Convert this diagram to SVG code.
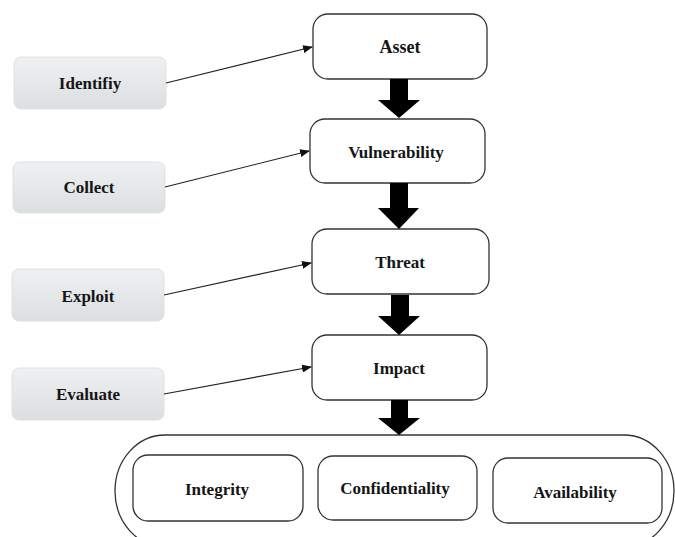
<svg xmlns="http://www.w3.org/2000/svg" width="675" height="537" viewBox="0 0 675 537">
<defs>
<linearGradient id="g" x1="0" y1="0" x2="0" y2="1">
<stop offset="0" stop-color="#eef0f1"/>
<stop offset="1" stop-color="#dcdfe1"/>
</linearGradient>
<marker id="ah" markerWidth="10" markerHeight="8" refX="9" refY="4" orient="auto" markerUnits="userSpaceOnUse">
<path d="M0,0 L10,4 L0,8 Z" fill="#111"/>
</marker>
<style>
.t{font-family:"Liberation Serif","Times New Roman",serif;font-weight:bold;font-size:17px;fill:#151515;text-anchor:middle}
.src{fill:url(#g);stroke:#dfe1e2;stroke-width:1}
.box{fill:#fff;stroke:#333;stroke-width:1.3}
.ln{stroke:#222;stroke-width:1.2;fill:none;marker-end:url(#ah)}
.big{fill:#000}
</style>
</defs>
<rect width="675" height="537" fill="#fff"/>

<g id="container">
<rect x="115" y="435" width="559" height="112" rx="50" ry="56" fill="#fff" stroke="#333" stroke-width="1.3"/>
</g>

<g id="identify"><rect class="src" x="14" y="57" width="152" height="52" rx="7"/><text class="t" x="90" y="89">Identifiy</text></g>
<g id="collect"><rect class="src" x="13" y="162" width="152" height="51" rx="7"/><text class="t" x="89" y="193">Collect</text></g>
<g id="exploit"><rect class="src" x="12" y="269" width="152" height="52" rx="7"/><text class="t" x="88" y="302">Exploit</text></g>
<g id="evaluate"><rect class="src" x="12" y="368" width="152" height="52" rx="7"/><text class="t" x="88" y="400">Evaluate</text></g>

<g id="asset"><rect class="box" x="313" y="14" width="174" height="65" rx="15"/><text class="t" x="400" y="53" style="font-size:18px">Asset</text></g>
<g id="vulnerability"><rect class="box" x="310" y="119" width="175" height="64" rx="15"/><text class="t" x="396" y="158">Vulnerability</text></g>
<g id="threat"><rect class="box" x="312" y="229" width="177" height="65" rx="15"/><text class="t" x="400" y="268">Threat</text></g>
<g id="impact"><rect class="box" x="312" y="335" width="175" height="65" rx="15"/><text class="t" x="399" y="374">Impact</text></g>

<g id="integrity"><rect class="box" x="133" y="455" width="170" height="66" rx="15"/><text class="t" x="217" y="495">Integrity</text></g>
<g id="confidentiality"><rect class="box" x="318" y="456" width="159" height="64" rx="15"/><text class="t" x="395" y="494">Confidentiality</text></g>
<g id="availability"><rect class="box" x="493" y="458" width="169" height="65" rx="15"/><text class="t" x="575" y="498">Availability</text></g>

<g id="connectors">
<line class="ln" x1="166" y1="83" x2="312" y2="47"/>
<line class="ln" x1="165" y1="187" x2="309" y2="151"/>
<line class="ln" x1="164" y1="295" x2="311" y2="263"/>
<line class="ln" x1="164" y1="394" x2="311" y2="367"/>
<polygon class="big" points="390,79 408,79 408,100 420,100 399,118 378,100 390,100"/>
<polygon class="big" points="390,183 408,183 408,208 419,208 399,229 378,208 390,208"/>
<polygon class="big" points="391,295 409,295 409,316 420,316 399,335 378,316 391,316"/>
<polygon class="big" points="391,400 408,400 408,418 420,418 399,435 378,418 391,418"/>
</g>
</svg>
